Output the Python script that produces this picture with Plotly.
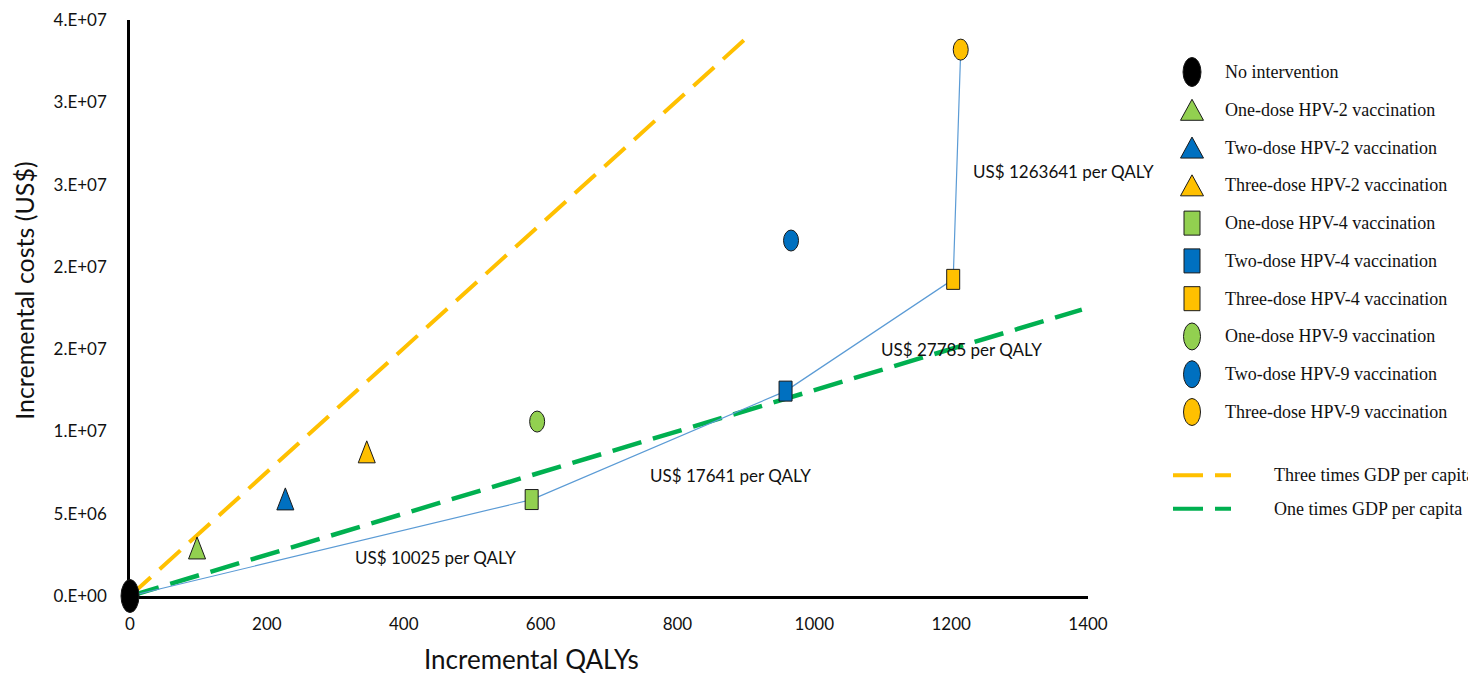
import plotly.graph_objects as go

# strategies (incremental vs no intervention)
strategies = ["No intervention",
              "One-dose HPV-2 vaccination", "Two-dose HPV-2 vaccination", "Three-dose HPV-2 vaccination",
              "One-dose HPV-4 vaccination", "Two-dose HPV-4 vaccination", "Three-dose HPV-4 vaccination",
              "One-dose HPV-9 vaccination", "Two-dose HPV-9 vaccination", "Three-dose HPV-9 vaccination"]
qalys = [0, 98, 227, 346, 587, 958, 1203, 595, 966, 1214]
costs = [0, 2.92e6, 5.9e6, 8.76e6, 5.86e6, 12.45e6, 19.24e6, 10.6e6, 21.6e6, 33.2e6]
marker_kind = ["ellipse", "tri", "tri", "tri", "rect", "rect", "rect", "ellipse", "ellipse", "ellipse"]
marker_color = ["#000000", "#92D050", "#0070C0", "#FFC000", "#92D050", "#0070C0", "#FFC000",
                "#92D050", "#0070C0", "#FFC000"]

# efficient frontier (index into strategies) and ICER labels
frontier = [0, 4, 5, 6, 9]
icer_text = ["US$ 10025 per QALY", "US$ 17641 per QALY", "US$ 27785 per QALY", "US$ 1263641 per QALY"]
icer_x = [446, 878, 1215, 1364]
icer_y = [2.33e6, 7.3e6, 14.97e6, 25.8e6]

# willingness-to-pay lines
wtp_names = ["Three times GDP per capita", "One times GDP per capita"]
wtp_x = [[0, 906], [0, 1391]]
wtp_y = [[0, 34.1e6], [0, 17.4e6]]
wtp_color = ["#FFC000", "#00B050"]

x_ticks = [0, 200, 400, 600, 800, 1000, 1200, 1400]
y_ticks = [0, 5e6, 1e7, 1.5e7, 2e7, 2.5e7, 3e7, 3.5e7]
y_ticktext = ["0.E+00", "5.E+06", "1.E+07", "2.E+07", "2.E+07", "3.E+07", "3.E+07", "4.E+07"]

X_RANGE = [0, 1400]
Y_RANGE = [0, 3.5e7]
# page has an 8px body margin, so the figure is drawn 8px in from the corner
OFF = 8
W, H = 1476 - OFF, 676 - OFF
L, R, T, B = 122, 388, 1, 80
PW, PH = W - L - R, H - T - B

SANS = "Lato"
SERIF = "Liberation Serif"


# page pixel -> paper fraction
def px_x(p):
    return (p - OFF - L) / PW


def px_y(p):
    return (H - B - (p - OFF)) / PH


def marker_shape(kind, color, w, h, **pos):
    if kind == "ellipse":
        s = dict(type="circle", x0=-w / 2, x1=w / 2, y0=-h / 2, y1=h / 2)
    elif kind == "rect":
        s = dict(type="rect", x0=-w / 2, x1=w / 2, y0=-h / 2, y1=h / 2)
    else:
        s = dict(type="path", path="M %f,%f L %f,%f L 0,%f Z" % (-w / 2, -h / 2, w / 2, -h / 2, h / 2))
    s.update(xsizemode="pixel", ysizemode="pixel", fillcolor=color,
             line=dict(color="#1a1a1a", width=1), layer="above", **pos)
    return s


fig = go.Figure()

for i in range(2):
    fig.add_trace(go.Scatter(x=wtp_x[i], y=wtp_y[i], mode="lines", name=wtp_names[i],
                             line=dict(color=wtp_color[i], width=4 if i == 0 else 4.5,
                                       dash="28px,12px" if i == 0 else "30px,12px"),
                             hoverinfo="skip", showlegend=False))

fig.add_trace(go.Scatter(x=[qalys[i] for i in frontier], y=[costs[i] for i in frontier],
                         mode="lines", line=dict(color="#5B9BD5", width=1.2),
                         hoverinfo="skip", showlegend=False))

# invisible points for hover
fig.add_trace(go.Scatter(x=qalys, y=costs, mode="markers", text=strategies,
                         marker=dict(size=16, opacity=0),
                         hovertemplate="%{text}<br>%{x} QALYs<br>%{y:,.0f} US$<extra></extra>",
                         showlegend=False, cliponaxis=False))

shapes = []
for i in range(len(strategies)):
    if i == 0:
        w, h = 18, 33
    elif marker_kind[i] == "ellipse":
        w, h = 15, 21
    elif marker_kind[i] == "rect":
        w, h = 13, 20
    else:
        w, h = 17, 22
    if qalys[i] == X_RANGE[0] or costs[i] == Y_RANGE[0]:
        # on the axes corner: place in paper units so it is not clipped
        pos = dict(xref="paper", yref="paper",
                   xanchor=(qalys[i] - X_RANGE[0]) / (X_RANGE[1] - X_RANGE[0]),
                   yanchor=(costs[i] - Y_RANGE[0]) / (Y_RANGE[1] - Y_RANGE[0]))
    else:
        pos = dict(xref="x", yref="y", xanchor=qalys[i], yanchor=costs[i])
    shapes.append(marker_shape(marker_kind[i], marker_color[i], w, h, **pos))

annotations = []
for t, x, y in zip(icer_text, icer_x, icer_y):
    annotations.append(dict(x=x, y=y, xref="x", yref="y", text=t, showarrow=False,
                            xanchor="center", yanchor="middle",
                            font=dict(family=SANS, size=17, color="#111")))

# manual legend on the right
for i, name in enumerate(strategies):
    ry = 62 + 38.5 * i
    if i == 0:
        w, h = 18, 29
    elif marker_kind[i] == "ellipse":
        w, h = 17, 27
    elif marker_kind[i] == "rect":
        w, h = 16, 24
    else:
        w, h = 23, 21
    shapes.append(marker_shape(marker_kind[i], marker_color[i], w, h,
                               xref="paper", yref="paper", xanchor=px_x(1192), yanchor=px_y(ry)))
    annotations.append(dict(x=px_x(1223), y=px_y(ry), xref="paper", yref="paper", text=name,
                            showarrow=False, xanchor="left", yanchor="middle",
                            font=dict(family=SERIF, size=18, color="#111")))

for i, name in enumerate(wtp_names):
    ry = 473 + 34 * i
    shapes.append(dict(type="line", xref="paper", yref="paper", x0=px_x(1173), x1=px_x(1231),
                       y0=px_y(ry), y1=px_y(ry), layer="above",
                       line=dict(color=wtp_color[i], width=4, dash="30px,12px")))
    annotations.append(dict(x=px_x(1272), y=px_y(ry), xref="paper", yref="paper", text=name,
                            showarrow=False, xanchor="left", yanchor="middle",
                            font=dict(family=SERIF, size=18, color="#111")))

# axis titles
annotations.append(dict(x=px_x(531), y=px_y(660), xref="paper", yref="paper", text="Incremental QALYs",
                        showarrow=False, xanchor="center", yanchor="middle",
                        font=dict(family=SANS, size=26, color="#111")))
annotations.append(dict(x=px_x(24), y=px_y(285), xref="paper", yref="paper", text="Incremental costs (US$)",
                        showarrow=False, textangle=-90, xanchor="center", yanchor="middle",
                        font=dict(family=SANS, size=25, color="#111")))

fig.update_layout(
    width=W, height=H,
    margin=dict(l=L, r=R, t=T, b=B, pad=0),
    plot_bgcolor="white", paper_bgcolor="white",
    showlegend=False,
    shapes=shapes, annotations=annotations,
    font=dict(family=SANS, size=17, color="#111"),
)
fig.update_xaxes(range=X_RANGE, tickvals=x_ticks, showgrid=False, zeroline=False,
                 showline=True, linecolor="black", linewidth=2.5, ticks="",
                 ticklabelstandoff=11, ticklabeloverflow="allow",
                 tickfont=dict(family=SANS, size=17, color="#111"))
fig.update_yaxes(range=Y_RANGE, tickvals=y_ticks, ticktext=y_ticktext, showgrid=False, zeroline=False,
                 showline=True, linecolor="black", linewidth=2.5, ticks="",
                 ticklabelstandoff=17, ticklabeloverflow="allow",
                 tickfont=dict(family=SANS, size=17, color="#111"))

fig.write_html("out.html")
